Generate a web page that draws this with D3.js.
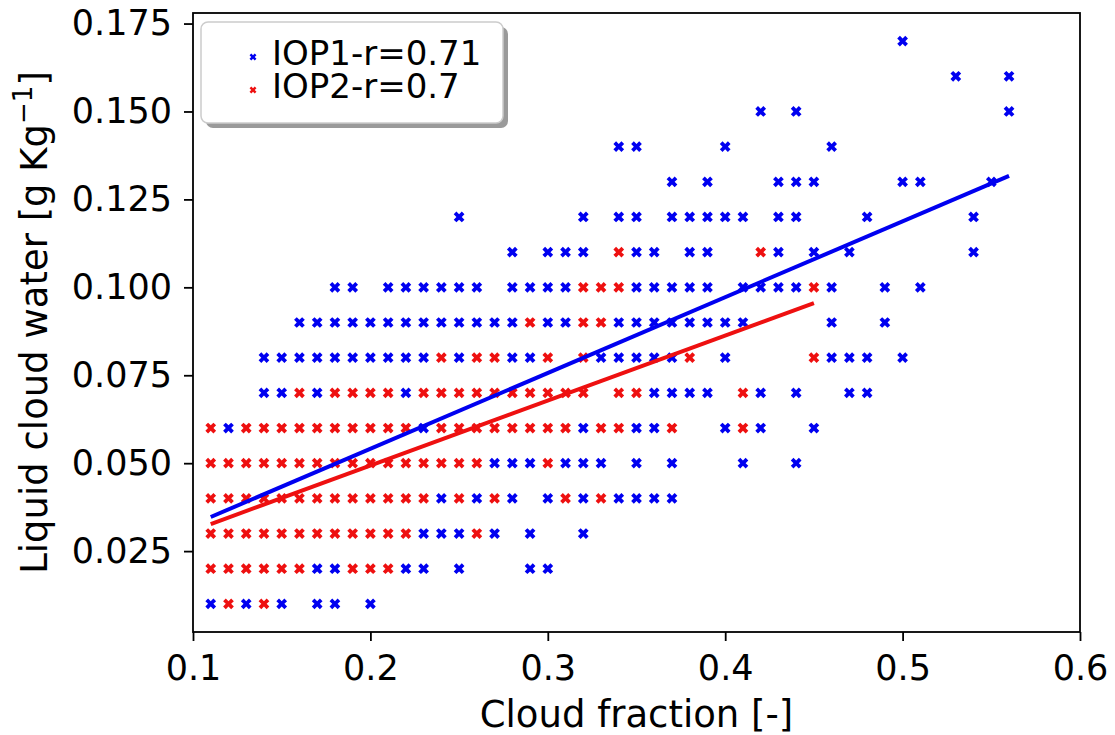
<!DOCTYPE html>
<html>
<head>
<meta charset="utf-8">
<script src="https://cdn.jsdelivr.net/npm/d3@7.9.0/dist/d3.min.js"></script>
<style>
  body { margin: 0; background: #fff; }
  text { font-family: "DejaVu Sans", sans-serif; }
</style>
</head>
<body>
<div id="chart"></div>
<script>
// liquid cloud water level -> cloud fraction values, one list per series
const iop1Rows = [
  [0.17, [0.50]],
  [0.16, [0.53, 0.56]],
  [0.15, [0.42, 0.44, 0.56]],
  [0.14, [0.34, 0.35, 0.40, 0.46]],
  [0.13, [0.37, 0.39, 0.43, 0.44, 0.45, 0.50, 0.51, 0.55]],
  [0.12, [0.25, 0.32, 0.34, 0.35, 0.37, 0.38, 0.39, 0.40, 0.41, 0.43, 0.44, 0.48, 0.54]],
  [0.11, [0.28, 0.30, 0.31, 0.32, 0.35, 0.36, 0.38, 0.39, 0.43, 0.45, 0.47, 0.54]],
  [0.10, [0.18, 0.19, 0.21, 0.22, 0.23, 0.24, 0.25, 0.26, 0.28, 0.29, 0.30, 0.31, 0.35, 0.36, 0.37, 0.38, 0.39, 0.41, 0.42, 0.43, 0.44, 0.46, 0.49, 0.51]],
  [0.09, [0.16, 0.17, 0.18, 0.19, 0.20, 0.21, 0.22, 0.23, 0.24, 0.25, 0.26, 0.27, 0.28, 0.30, 0.31, 0.34, 0.35, 0.36, 0.37, 0.38, 0.39, 0.40, 0.41, 0.46, 0.49]],
  [0.08, [0.14, 0.15, 0.16, 0.17, 0.18, 0.19, 0.20, 0.21, 0.22, 0.23, 0.25, 0.28, 0.29, 0.33, 0.34, 0.35, 0.36, 0.37, 0.40, 0.46, 0.47, 0.48, 0.50]],
  [0.07, [0.14, 0.15, 0.17, 0.22, 0.36, 0.37, 0.38, 0.39, 0.42, 0.44, 0.47, 0.48]],
  [0.06, [0.12, 0.23, 0.32, 0.35, 0.36, 0.40, 0.42, 0.45]],
  [0.05, [0.27, 0.28, 0.29, 0.31, 0.32, 0.33, 0.35, 0.37, 0.41, 0.44]],
  [0.04, [0.24, 0.26, 0.28, 0.30, 0.32, 0.34, 0.35, 0.36, 0.37]],
  [0.03, [0.23, 0.24, 0.25, 0.27, 0.29, 0.32]],
  [0.02, [0.17, 0.18, 0.22, 0.23, 0.25, 0.29, 0.30]],
  [0.01, [0.11, 0.13, 0.15, 0.17, 0.18, 0.20]]
];

const iop2Rows = [
  [0.11, [0.34, 0.42]],
  [0.10, [0.32, 0.33, 0.34, 0.45]],
  [0.09, [0.29, 0.32, 0.33]],
  [0.08, [0.24, 0.26, 0.27, 0.30, 0.32, 0.38, 0.45]],
  [0.07, [0.16, 0.18, 0.19, 0.20, 0.21, 0.23, 0.24, 0.25, 0.26, 0.27, 0.28, 0.29, 0.30, 0.31, 0.32, 0.34, 0.35, 0.41]],
  [0.06, [0.11, 0.13, 0.14, 0.15, 0.16, 0.17, 0.18, 0.19, 0.20, 0.21, 0.22, 0.24, 0.25, 0.26, 0.27, 0.28, 0.29, 0.30, 0.31, 0.33, 0.34, 0.37, 0.41]],
  [0.05, [0.11, 0.12, 0.13, 0.14, 0.15, 0.16, 0.17, 0.18, 0.19, 0.20, 0.21, 0.22, 0.23, 0.24, 0.25, 0.26, 0.30]],
  [0.04, [0.11, 0.12, 0.13, 0.14, 0.15, 0.16, 0.17, 0.18, 0.19, 0.20, 0.21, 0.22, 0.23, 0.25, 0.27, 0.31, 0.33]],
  [0.03, [0.11, 0.12, 0.13, 0.14, 0.15, 0.16, 0.17, 0.18, 0.19, 0.20, 0.21, 0.22, 0.26]],
  [0.02, [0.11, 0.12, 0.13, 0.14, 0.15, 0.16, 0.19, 0.20, 0.21]],
  [0.01, [0.12, 0.14]]
];

// regression line end points [cloud fraction, lwc]
const iop1Fit = [[0.11, 0.0347], [0.56, 0.1317]];
const iop2Fit = [[0.11, 0.0327], [0.45, 0.0955]];

const xTicks = [0.1, 0.2, 0.3, 0.4, 0.5, 0.6];
const yTicks = [0.025, 0.050, 0.075, 0.100, 0.125, 0.150, 0.175];
const seriesLabels = ["IOP1-r=0.71", "IOP2-r=0.7"];

const blue = "#0000f0";
const red = "#ee1010";

const width = 1115, height = 735;
const margin = { top: 13, right: 35, bottom: 103, left: 193 };
const plotW = width - margin.left - margin.right;
const plotH = height - margin.top - margin.bottom;

const svg = d3.select("#chart").append("svg")
  .attr("width", width)
  .attr("height", height);

const g = svg.append("g")
  .attr("transform", `translate(${margin.left},${margin.top})`);

const x = d3.scaleLinear().domain([0.1, 0.6]).range([0, plotW]);
const y = d3.scaleLinear().domain([0.002, 0.178]).range([plotH, 0]);

function flatten(rows) {
  const pts = [];
  rows.forEach(([lwc, fracs]) => fracs.forEach(f => pts.push({ cf: f, lwc: lwc })));
  return pts;
}

// filled "X" marker, like matplotlib's 'X'
const xMark = d3.symbol(d3.symbolCross, 72);
const xMarkSmall = d3.symbol(d3.symbolCross, 30);

function drawPoints(rows, color, cls) {
  g.selectAll("." + cls)
    .data(flatten(rows))
    .enter().append("path")
    .attr("class", cls)
    .attr("d", xMark)
    .attr("transform", d => `translate(${x(d.cf)},${y(d.lwc)}) rotate(45)`)
    .style("fill", color);
}

drawPoints(iop1Rows, blue, "iop1");
drawPoints(iop2Rows, red, "iop2");

const line = d3.line().x(d => x(d[0])).y(d => y(d[1]));

g.append("path").datum(iop1Fit)
  .attr("d", line)
  .attr("stroke", blue).attr("stroke-width", 4).attr("fill", "none");
g.append("path").datum(iop2Fit)
  .attr("d", line)
  .attr("stroke", red).attr("stroke-width", 4).attr("fill", "none");

// frame
g.append("rect")
  .attr("width", plotW).attr("height", plotH)
  .attr("fill", "none").attr("stroke", "#000").attr("stroke-width", 1.8);

// axes
const xAxis = g.append("g")
  .attr("transform", `translate(0,${plotH})`)
  .call(d3.axisBottom(x).tickValues(xTicks).tickFormat(d3.format(".1f")).tickSize(9).tickPadding(14));

const yAxis = g.append("g")
  .call(d3.axisLeft(y).tickValues(yTicks).tickFormat(d3.format(".3f")).tickSize(9).tickPadding(12));

[xAxis, yAxis].forEach(a => {
  a.select(".domain").remove();
  a.selectAll(".tick line").attr("stroke", "#000").attr("stroke-width", 1.8);
  a.selectAll(".tick text")
    .style("font-family", "DejaVu Sans, sans-serif")
    .style("font-size", "35px")
    .attr("fill", "#000");
});

// axis labels
svg.append("text")
  .attr("x", margin.left + plotW / 2)
  .attr("y", 727)
  .attr("text-anchor", "middle")
  .style("font-size", "37px")
  .text("Cloud fraction [-]");

const yl = svg.append("text")
  .attr("transform", `translate(47,${margin.top + plotH / 2}) rotate(-90)`)
  .attr("text-anchor", "middle")
  .style("font-size", "37px");
yl.append("tspan").text("Liquid cloud water [g Kg");
yl.append("tspan").attr("dy", -15).style("font-size", "26px").text("\u22121");
yl.append("tspan").attr("dy", 15).text("]");

// legend
const legend = svg.append("g").attr("transform", "translate(201,22)");
legend.append("rect")
  .attr("x", 5).attr("y", 5)
  .attr("width", 302).attr("height", 101)
  .attr("rx", 7)
  .attr("fill", "#9a9a9a");
legend.append("rect")
  .attr("width", 302).attr("height", 101)
  .attr("rx", 7)
  .attr("fill", "#fff")
  .attr("stroke", "#cccccc").attr("stroke-width", 1.5);

const legendColors = [blue, red];
const items = legend.selectAll(".item")
  .data(seriesLabels)
  .enter().append("g")
  .attr("transform", (d, i) => `translate(0,${35 + i * 33})`);
items.append("path")
  .attr("d", xMarkSmall)
  .attr("transform", "translate(52,0) rotate(45)")
  .style("fill", (d, i) => legendColors[i]);
items.append("text")
  .attr("x", 71)
  .attr("y", 8)
  .style("font-size", "34px")
  .text(d => d);
</script>
</body>
</html>
